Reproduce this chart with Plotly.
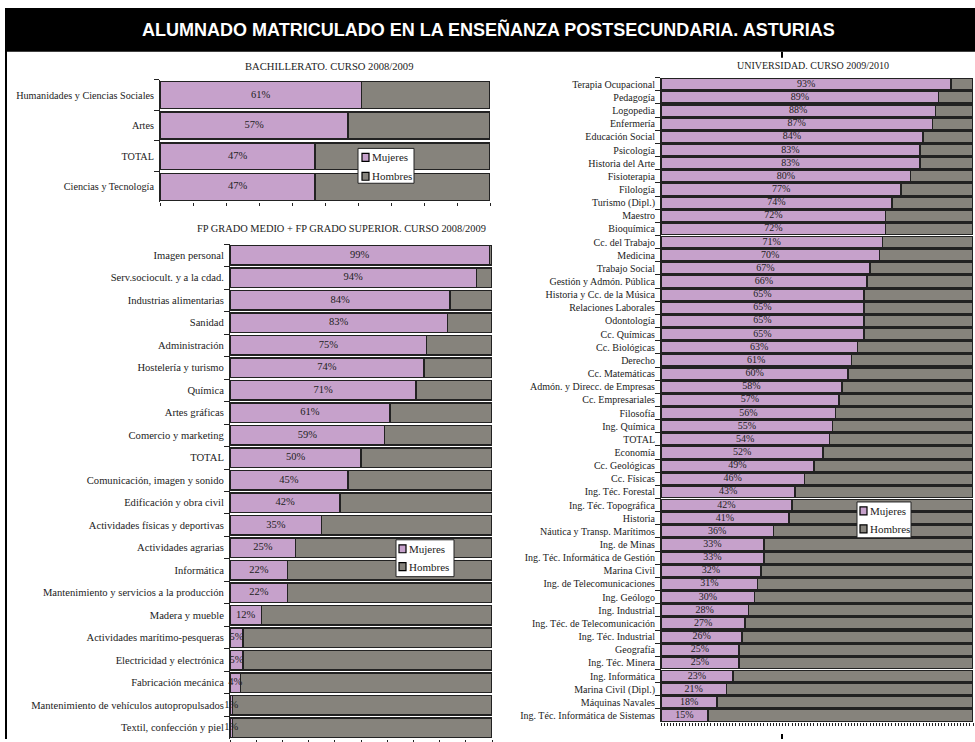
import plotly.graph_objects as go

# ---------------- DATA ----------------
bach_cats = ["Humanidades y Ciencias Sociales", "Artes", "TOTAL", "Ciencias y Tecnología"]
bach_mujeres = [61, 57, 47, 47]

fp_cats = ["Imagen personal", "Serv.sociocult. y a la cdad.", "Industrias alimentarias", "Sanidad",
           "Administración", "Hostelería y turismo", "Química", "Artes gráficas",
           "Comercio y marketing", "TOTAL", "Comunicación, imagen y sonido",
           "Edificación y obra civil", "Actividades físicas y deportivas", "Actividades agrarias",
           "Informática", "Mantenimiento y servicios a la producción", "Madera y mueble",
           "Actividades marítimo-pesqueras", "Electricidad y electrónica", "Fabricación mecánica",
           "Mantenimiento de vehículos autopropulsados", "Textil, confección y piel"]
fp_mujeres = [99, 94, 84, 83, 75, 74, 71, 61, 59, 50, 45, 42, 35, 25, 22, 22, 12, 5, 5, 4, 1, 1]

uni_cats = ["Terapia Ocupacional", "Pedagogía", "Logopedia", "Enfermería", "Educación Social",
            "Psicología", "Historia del Arte", "Fisioterapia", "Filología", "Turismo (Dipl.)",
            "Maestro", "Bioquímica", "Cc. del Trabajo", "Medicina", "Trabajo Social",
            "Gestión y Admón. Pública", "Historia y Cc. de la Música", "Relaciones Laborales",
            "Odontología", "Cc. Químicas", "Cc. Biológicas", "Derecho", "Cc. Matemáticas",
            "Admón. y Direcc. de Empresas", "Cc. Empresariales", "Filosofía", "Ing. Química",
            "TOTAL", "Economía", "Cc. Geológicas", "Cc. Físicas", "Ing. Téc. Forestal",
            "Ing. Téc. Topográfica", "Historia", "Náutica y Transp. Marítimos", "Ing. de Minas",
            "Ing. Téc. Informática de Gestión", "Marina Civil", "Ing. de Telecomunicaciones",
            "Ing. Geólogo", "Ing. Industrial", "Ing. Téc. de Telecomunicación", "Ing. Téc. Industrial",
            "Geografía", "Ing. Téc. Minera", "Ing. Informática", "Marina Civil (Dipl.)",
            "Máquinas Navales", "Ing. Téc. Informática de Sistemas"]
uni_mujeres = [93, 89, 88, 87, 84, 83, 83, 80, 77, 74, 72, 72, 71, 70, 67, 66, 65, 65, 65, 65,
               63, 61, 60, 58, 57, 56, 55, 54, 52, 49, 46, 43, 42, 41, 36, 33, 33, 32, 31, 30,
               28, 27, 26, 25, 25, 23, 21, 18, 15]

main_title = "ALUMNADO MATRICULADO EN LA ENSEÑANZA POSTSECUNDARIA. ASTURIAS"
sub_titles = ["BACHILLERATO. CURSO 2008/2009",
              "FP GRADO MEDIO + FP GRADO SUPERIOR. CURSO 2008/2009",
              "UNIVERSIDAD. CURSO 2009/2010"]
series_names = ["Mujeres", "Hombres"]

# ---------------- STYLE ----------------
W, H = 975, 742
C_M = "#C6A1CB"
C_H = "#86837C"
EDGE = "#222222"
SERIF = "Liberation Serif, Times New Roman, serif"


def px_x(p):
    return p / W


def px_y(p):
    return 1 - p / H


fig = go.Figure()

panels = [
    (bach_cats, bach_mujeres, "x", "y", 10.5),
    (fp_cats, fp_mujeres, "x2", "y2", 10.5),
    (uni_cats, uni_mujeres, "x3", "y3", 10),
]

for cats, muj, xa, ya, tfs in panels:
    hom = [100 - v for v in muj]
    fig.add_trace(go.Bar(
        y=cats, x=[v / 100 for v in muj], orientation="h", name=series_names[0],
        xaxis=xa, yaxis=ya, showlegend=False,
        marker=dict(color=C_M, line=dict(color=EDGE, width=1.5)),
        textposition="none",
    ))
    fig.add_trace(go.Bar(
        y=cats, x=[v / 100 for v in hom], orientation="h", name=series_names[1],
        xaxis=xa, yaxis=ya, showlegend=False,
        marker=dict(color=C_H, line=dict(color=EDGE, width=1.5)),
        textposition="none",
    ))
    # percentage labels centred on the Mujeres segment
    fig.add_trace(go.Scatter(
        y=cats, x=[v / 200 for v in muj], mode="text", xaxis=xa, yaxis=ya,
        text=[f"{v}%" for v in muj], textposition="middle center",
        textfont=dict(family=SERIF, size=tfs, color="#222222"),
        cliponaxis=False, showlegend=False, hoverinfo="skip",
    ))

xcommon = dict(range=[0, 1], showgrid=False, zeroline=False, showticklabels=False,
               ticks="outside", ticklen=3, tickcolor=EDGE, showline=False, fixedrange=True)
ycommon = dict(showgrid=False, zeroline=False, showline=True,
               linecolor=EDGE, linewidth=1, ticks="outside", tickson="boundaries",
               ticklen=5, tickcolor=EDGE, ticklabelstandoff=3, fixedrange=True)

layout_axes = dict(
    xaxis=dict(domain=[px_x(160), px_x(490)], anchor="y", dtick=0.1, **xcommon),
    yaxis=dict(domain=[px_y(203), px_y(80)], anchor="x",
               range=[len(bach_cats) - 0.5, -0.5],
               tickfont=dict(family=SERIF, size=10.2, color="#222"), **ycommon),
    xaxis2=dict(domain=[px_x(230), px_x(492)], anchor="y2", dtick=0.1, **xcommon),
    yaxis2=dict(domain=[px_y(742), px_y(245)], anchor="x2",
                range=[len(fp_cats) - 0.5, -0.5],
                tickfont=dict(family=SERIF, size=10.6, color="#222"), **ycommon),
    xaxis3=dict(domain=[px_x(661), px_x(973)], anchor="y3", dtick=0.01, **xcommon),
    yaxis3=dict(domain=[px_y(725), px_y(78)], anchor="x3",
                range=[len(uni_cats) - 0.5, -0.5],
                tickfont=dict(family=SERIF, size=10, color="#222"), **ycommon),
)

shapes = [
    # title band
    dict(type="rect", xref="paper", yref="paper", x0=px_x(5), x1=1, y0=px_y(52), y1=px_y(8),
         fillcolor="black", line=dict(width=0), layer="below"),
    # left frame line
    dict(type="line", xref="paper", yref="paper", x0=px_x(6), x1=px_x(6), y0=0, y1=px_y(8),
         line=dict(color="black", width=2)),
    # small divider ticks
    dict(type="line", xref="paper", yref="paper", x0=px_x(782), x1=px_x(782), y0=px_y(58), y1=px_y(52),
         line=dict(color="black", width=2)),
    dict(type="line", xref="paper", yref="paper", x0=px_x(782), x1=px_x(782), y0=0, y1=px_y(737),
         line=dict(color="black", width=2)),
]

annotations = [
    dict(text="<b>" + main_title + "</b>", xref="paper", yref="paper", x=px_x(488), y=px_y(30),
         xanchor="center", yanchor="middle", showarrow=False,
         font=dict(family="Liberation Sans Narrow, Arial Narrow, Liberation Sans, Arial", size=18, color="white")),
    dict(text=sub_titles[0], xref="paper", yref="paper", x=px_x(329), y=px_y(67),
         xanchor="center", yanchor="middle", showarrow=False,
         font=dict(family=SERIF, size=10.6, color="#222")),
    dict(text=sub_titles[1], xref="paper", yref="paper", x=px_x(341), y=px_y(229),
         xanchor="center", yanchor="middle", showarrow=False,
         font=dict(family=SERIF, size=10.4, color="#222")),
    dict(text=sub_titles[2], xref="paper", yref="paper", x=px_x(813), y=px_y(66),
         xanchor="center", yanchor="middle", showarrow=False,
         font=dict(family=SERIF, size=10, color="#222")),
]

# hand-drawn legends (box, swatches, labels) placed like the original
legend_boxes = [
    # (x0, x1, y0, y1, swatch_x0, row_y centres, text_x)
    (358, 414, 149, 184, 362, (158, 177), 370),
    (396, 454, 542, 579, 399, (551, 569), 407),
    (857, 911, 504, 540, 860, (513, 531), 868),
]
for bx0, bx1, by0, by1, sx, rows, tx in legend_boxes:
    shapes.append(dict(type="rect", xref="paper", yref="paper",
                       x0=px_x(bx0), x1=px_x(bx1), y0=px_y(by1), y1=px_y(by0),
                       fillcolor="white", line=dict(color=EDGE, width=1)))
    for ry, col, nm in zip(rows, [C_M, C_H], series_names):
        shapes.append(dict(type="rect", xref="paper", yref="paper",
                           x0=px_x(sx), x1=px_x(sx + 7), y0=px_y(ry + 4), y1=px_y(ry - 4),
                           fillcolor=col, line=dict(color="black", width=1.2)))
        annotations.append(dict(text=nm, xref="paper", yref="paper", x=px_x(tx), y=px_y(ry),
                                xanchor="left", yanchor="middle", showarrow=False,
                                font=dict(family=SERIF, size=11, color="#222")))

fig.update_layout(
    width=W, height=H, margin=dict(l=0, r=0, t=0, b=0),
    paper_bgcolor="white", plot_bgcolor="white",
    barmode="stack", bargap=0.12, showlegend=False,
    shapes=shapes, annotations=annotations,
    **layout_axes,
)

fig.write_html("out.html", config={"displayModeBar": False},
               post_script="document.body.style.margin='0px';document.body.style.overflow='hidden';")
